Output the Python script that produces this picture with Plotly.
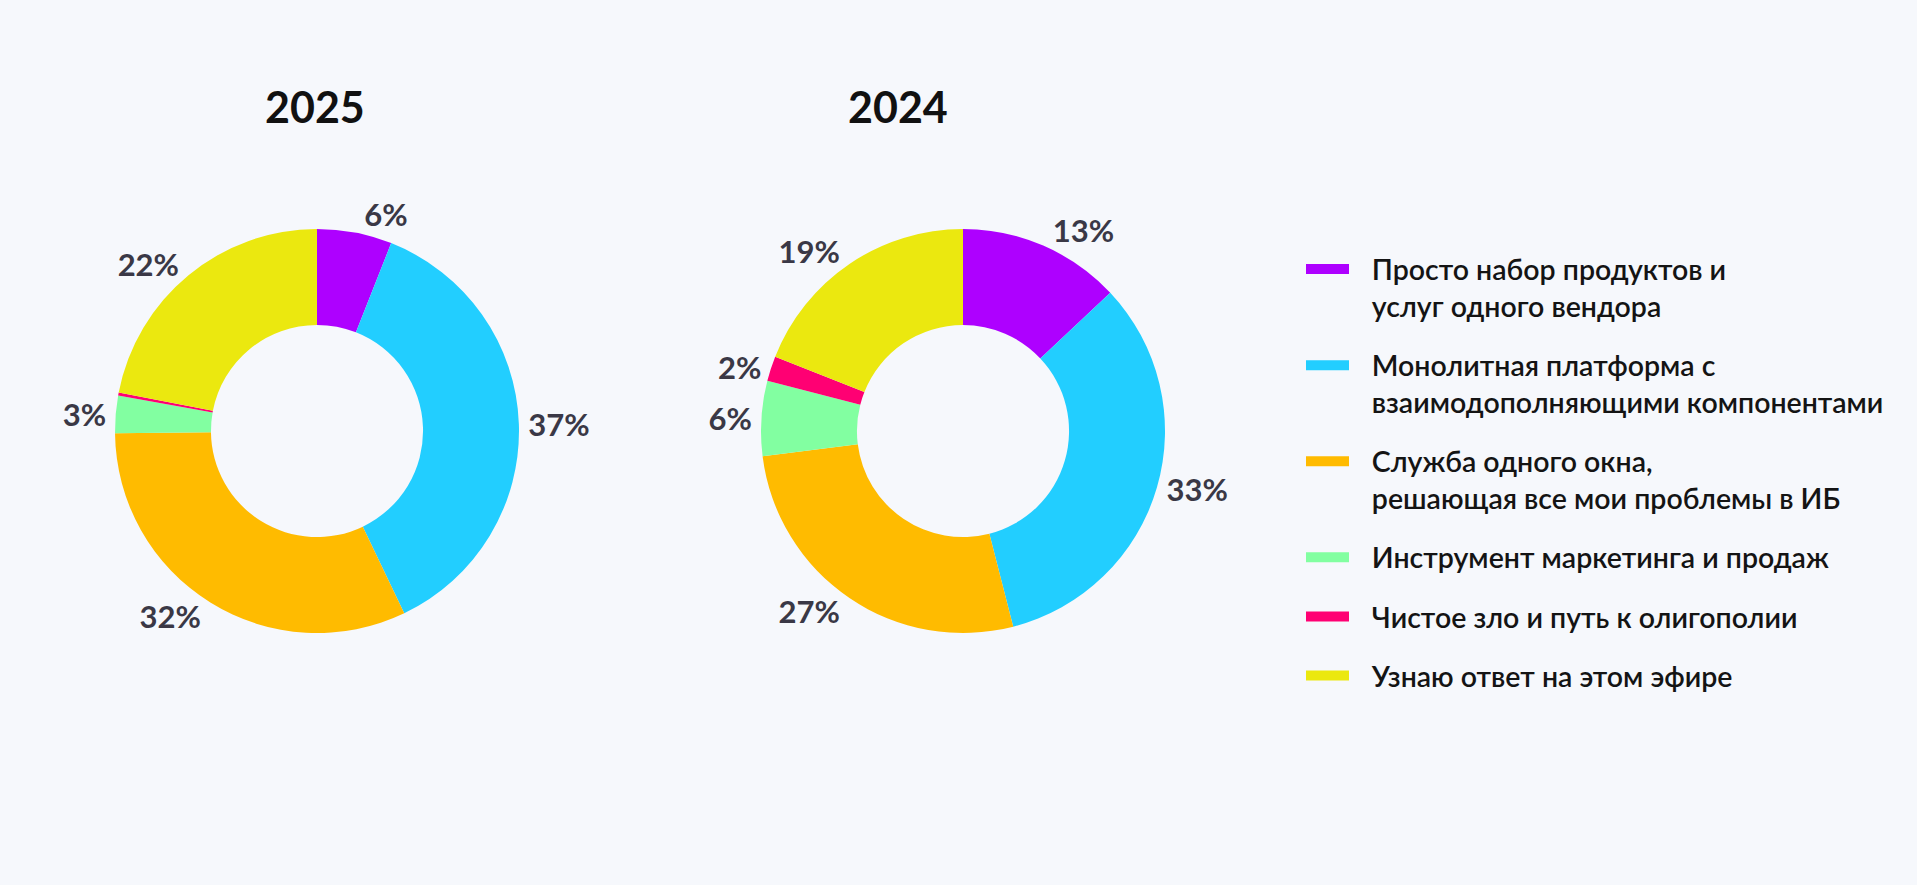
import plotly.graph_objects as go

categories = [
    "Просто набор продуктов и<br>услуг одного вендора",
    "Монолитная платформа с<br>взаимодополняющими компонентами",
    "Служба одного окна,<br>решающая все мои проблемы в ИБ",
    "Инструмент маркетинга и продаж",
    "Чистое зло и путь к олигополии",
    "Узнаю ответ на этом эфире",
]
colors = ["#AE00FF", "#22CEFF", "#FFBB00", "#82FFA1", "#FF0073", "#EBE80F"]

values_2025 = [6, 37, 32, 3, 0.25, 22]
labels_2025 = ["6%", "37%", "32%", "3%", "", "22%"]

values_2024 = [13, 33, 27, 6, 2, 19]
labels_2024 = ["13%", "33%", "27%", "6%", "2%", "19%"]

years = ["2025", "2024"]

W, H = 1917, 885
BG = "#F6F8FC"
LABEL_COLOR = "#3A3846"
FONT = "Lato"


def dom(cx, cy, r):
    return dict(x=[(cx - r) / W, (cx + r) / W], y=[1 - (cy + r) / H, 1 - (cy - r) / H])


fig = go.Figure()

for vals, txt, d in [
    (values_2025, labels_2025, dom(317, 431, 202)),
    (values_2024, labels_2024, dom(963, 431, 202)),
]:
    fig.add_trace(go.Pie(
        labels=categories,
        values=vals,
        text=txt,
        textinfo="text",
        textposition="outside",
        outsidetextfont=dict(family=FONT, size=31, color=LABEL_COLOR, weight="bold"),
        hole=0.525,
        sort=False,
        direction="clockwise",
        rotation=0,
        marker=dict(colors=colors, line=dict(width=0)),
        domain=d,
        showlegend=False,
        hoverinfo="label+percent",
    ))

# legend entries (wide bar swatches); small gap after swatch
PAD = "\u2002\u2009"
for i, (name, c) in enumerate(zip(categories, colors)):
    shown = "<br>".join(PAD + part for part in name.split("<br>"))
    fig.add_trace(go.Scatter(
        x=[None], y=[None], mode="lines", name=shown,
        line=dict(color=c, width=11),
        legendgroup=f"g{i}",
        hoverinfo="skip",
    ))

# year titles
for yr, px in zip(years, [315, 898]):
    fig.add_annotation(
        x=px / W, y=1 - 106.5 / H, xref="paper", yref="paper",
        text=f"<b>{yr}</b>", showarrow=False,
        font=dict(family=FONT, size=43, color="#111111"),
        xanchor="center", yanchor="middle",
    )

fig.update_layout(
    width=W, height=H,
    margin=dict(l=0, r=0, t=0, b=0),
    paper_bgcolor=BG,
    plot_bgcolor=BG,
    xaxis=dict(visible=False),
    yaxis=dict(visible=False),
    legend=dict(
        x=1301 / W, y=1 - 244 / H, xanchor="left", yanchor="top",
        font=dict(family=FONT, size=28.5, color="#141414", weight=600),
        bgcolor="rgba(0,0,0,0)",
        valign="top",
        tracegroupgap=19,
        itemwidth=43,
    ),
    showlegend=True,
)

fig.write_html(
    "out.html",
    config={"displayModeBar": False},
    post_script="document.body.style.margin='0';document.body.style.background='#F6F8FC';",
)
